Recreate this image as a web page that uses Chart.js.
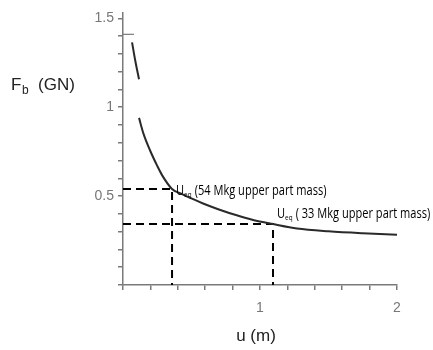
<!DOCTYPE html>
<html>
<head>
<meta charset="utf-8">
<script src="https://cdn.jsdelivr.net/npm/chart.js@4.4.0/dist/chart.umd.min.js"></script>
<style>
  html, body { margin: 0; padding: 0; background: #fff; }
  #wrap { width: 433px; height: 350px; }
</style>
</head>
<body>
<div id="wrap"><canvas id="chart" width="433" height="350"></canvas></div>
<script>
// curve: u (m) -> Fb (GN); null marks the break
const curveU = [0.066, 0.09, 0.117, null, 0.117, 0.15, 0.197, 0.25, 0.285, 0.358, 0.42, 0.5, 0.58, 0.7, 0.83, 0.95, 1.095, 1.27, 1.5, 1.75, 2.0];
const curveF = [1.365, 1.26, 1.157, null, 0.94, 0.85, 0.758, 0.67, 0.618, 0.54, 0.515, 0.487, 0.46, 0.425, 0.392, 0.366, 0.343, 0.318, 0.302, 0.291, 0.283];

// equilibrium points (dashed guides)
const ueqU = [0.358, 1.095];
const ueqF = [0.54, 0.343];
const ueqText = ['(54 Mkg upper part mass)', '( 33 Mkg upper part mass)'];

// axis ticks
const xTicks = [0, 0.2, 0.4, 0.6, 0.8, 1, 1.2, 1.4, 1.6, 1.8, 2];
const xLabels = [1, 2];
const yTicks = [0, 0.1, 0.2, 0.3, 0.4, 0.5, 0.6, 0.7, 0.8, 0.9, 1, 1.1, 1.2, 1.3, 1.4, 1.5];
const yLabels = [0.5, 1, 1.5];

// little mark near the top of the y axis
const topMarkU = [0, 0.08];
const topMarkF = [1.41, 1.41];

const curvePts = curveU.map((u, i) => u === null ? { x: null, y: null } : { x: u, y: curveF[i] });

const guideSets = ueqU.map((u, i) => ({
    data: [{ x: 0, y: ueqF[i] }, { x: u, y: ueqF[i] }, { x: u, y: 0 }],
    borderColor: '#000',
    borderWidth: 2,
    borderDash: [8, 5],
    pointRadius: 0,
    tension: 0
}));

const grey = '#7a7a7a';

const textPlugin = {
    id: 'texts',
    afterDraw(chart) {
        const ctx = chart.ctx;
        const xs = chart.scales.x, ys = chart.scales.y;
        ctx.save();
        ctx.textBaseline = 'alphabetic';
        ctx.textAlign = 'left';

        // y title F_b (GN)
        ctx.fillStyle = '#222';
        ctx.font = '17px "Liberation Sans", Arial, sans-serif';
        ctx.fillText('F', 11, 90);
        ctx.font = '12px "Liberation Sans", Arial, sans-serif';
        ctx.fillText('b', 22, 94);
        ctx.font = '17px "Liberation Sans", Arial, sans-serif';
        ctx.fillText('(GN)', 38, 90);

        // x title
        ctx.textAlign = 'center';
        ctx.fillText('u (m)', 256, 341);

        // annotations, narrow like the original Calibri
        ctx.textAlign = 'left';
        const sx = 0.79;
        ueqU.forEach((u, i) => {
            const px = xs.getPixelForValue(u) + 4;
            const py = ys.getPixelForValue(ueqF[i]) + (i === 0 ? 6 : -6);
            ctx.save();
            ctx.translate(px, py);
            ctx.scale(sx, 1);
            ctx.fillStyle = '#000';
            ctx.font = '14px "Open Sans", sans-serif';
            ctx.fillText('U', 0, 0);
            let w = ctx.measureText('U').width;
            ctx.font = '8px "Open Sans", sans-serif';
            ctx.fillText('eq', w, 2);
            w += ctx.measureText('eq').width + 4;
            ctx.font = '14px "Open Sans", sans-serif';
            ctx.fillText(ueqText[i], w, 0);
            ctx.restore();
        });
        ctx.restore();
    }
};

new Chart(document.getElementById('chart'), {
    type: 'line',
    data: {
        datasets: [
            {
                data: curvePts,
                borderColor: '#2a2a2a',
                borderWidth: 2,
                pointRadius: 0,
                spanGaps: false,
                cubicInterpolationMode: 'monotone'
            },
            ...guideSets,
            {
                data: topMarkU.map((u, i) => ({ x: u, y: topMarkF[i] })),
                borderColor: grey,
                borderWidth: 1.2,
                pointRadius: 0
            }
        ]
    },
    options: {
        responsive: false,
        animation: false,
        layout: { padding: { left: 0, right: 36, top: 13, bottom: 0 } },
        plugins: { legend: { display: false }, tooltip: { enabled: false } },
        scales: {
            x: {
                type: 'linear',
                min: 0,
                max: 2,
                afterFit: s => { s.height = 65; },
                afterBuildTicks: s => { s.ticks = xTicks.map(v => ({ value: v })); },
                border: { display: true, color: grey, width: 1.5 },
                grid: { drawOnChartArea: false, drawTicks: true, tickLength: 5, color: grey, lineWidth: 1.5 },
                ticks: {
                    autoSkip: false,
                    maxRotation: 0,
                    padding: 10,
                    color: '#777',
                    font: { family: '"Liberation Sans", Arial, sans-serif', size: 14 },
                    callback: v => xLabels.includes(v) ? String(v) : ''
                }
            },
            y: {
                type: 'linear',
                min: 0,
                max: 1.53,
                afterFit: s => { s.width = 123; },
                afterBuildTicks: s => { s.ticks = yTicks.map(v => ({ value: v })); },
                border: { display: true, color: grey, width: 1.5 },
                grid: { drawOnChartArea: false, drawTicks: true, tickLength: 5, color: grey, lineWidth: 1.5 },
                ticks: {
                    autoSkip: false,
                    padding: 4,
                    color: '#777',
                    font: { family: '"Liberation Sans", Arial, sans-serif', size: 14 },
                    callback: v => yLabels.includes(v) ? String(v) : ''
                }
            }
        }
    },
    plugins: [textPlugin]
});
</script>
</body>
</html>
